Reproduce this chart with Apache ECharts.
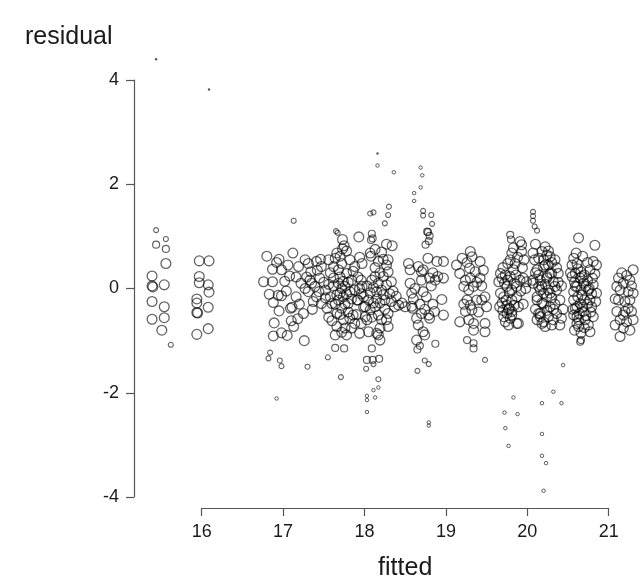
<!DOCTYPE html>
<html>
<head>
<meta charset="utf-8">
<script src="https://cdn.jsdelivr.net/npm/echarts@6/dist/echarts.min.js"></script>
<style>html,body{margin:0;padding:0;background:#fff}#c{width:642px;height:585px}</style>
</head>
<body>
<div id="c"></div>
<script>
// x tick labels / y tick labels
const xTicks = [16, 17, 18, 19, 20, 21];
const yTicks = [-4, -2, 0, 2, 4];

// [fitted, residual] points, grouped by their plotted weight class
const fullWeight = [
[15.56,0.48],[15.39,0.24],[15.39,0.05],[15.40,0.03],[15.54,0.07],[15.39,-0.25],[15.54,-0.35],[15.39,-0.59],[15.54,-0.56],[15.51,-0.80],
[15.97,0.53],[16.09,0.53],[15.97,0.23],[15.97,0.11],[16.08,0.07],[16.09,-0.07],[15.94,-0.20],[15.94,-0.28],[15.94,-0.46],[15.95,-0.47],[16.08,-0.36],[15.94,-0.88],[16.08,-0.77],
[16.80,0.62],[16.95,0.56],[17.12,0.68],[17.27,0.55],[16.87,0.37],[16.98,0.36],[17.06,0.45],[17.19,0.42],[17.08,0.24],[16.76,0.13],[16.87,0.13],[16.83,-0.11],[16.94,-0.13],[16.98,-0.14],[16.88,-0.27],[16.95,-0.43],[17.11,-0.36],[17.09,-0.38],[17.16,-0.16],[17.25,-0.48],[16.89,-0.66],[17.10,-0.62],[17.13,-0.73],[16.88,-0.91],[16.98,-0.85],[17.26,-1.00],
[17.73,0.94],[17.75,0.82],[17.73,0.76],[17.93,0.99],
[17.31,0.48],[17.41,0.52],[17.47,0.42],[17.56,0.55],[17.64,0.58],[17.72,0.48],[17.82,0.55],[17.88,0.42],[17.97,0.48],[17.33,0.16],[17.39,0.04],[17.31,-0.06],[17.41,-0.16],[17.52,-0.03],[17.62,0.20],[17.68,0.10],[17.70,-0.09],[17.76,0.04],[17.84,0.16],[17.88,-0.03],[17.97,0.04],[17.91,-0.22],[17.80,-0.29],[17.72,-0.38],[17.66,-0.48],[17.74,-0.60],[17.82,-0.57],[17.88,-0.67],[17.66,-0.73],[17.76,-0.76],[17.64,-0.89],[17.78,-0.89],[17.86,-0.51],[17.58,-0.16],[17.47,-0.29],[17.37,-0.25],[17.27,0.00],[17.54,-0.38],[17.60,-0.29],[17.99,-0.35],[18.01,-0.54],[17.35,0.10],[17.45,0.20],[17.68,0.36],[17.78,0.29],[17.74,-0.16],[17.82,-0.06],
[17.58,0.30],[17.62,0.05],[17.66,-0.12],[17.70,0.22],[17.72,0.00],[17.74,0.14],[17.78,-0.10],[17.80,0.12],[17.64,-0.30],[17.68,-0.22],[17.76,-0.30],[17.84,-0.20],[17.62,0.42],[17.70,0.62],[17.86,0.33],[17.92,0.22],[17.94,0.60],[17.50,0.12],[17.52,-0.18],[17.56,0.08],[17.44,-0.06],[17.36,-0.40],[17.42,0.35],[17.34,0.32],[17.29,0.22],[17.56,-0.55],[17.70,-0.50],[17.80,-0.45],[17.72,-0.84],[17.84,-0.76],[17.90,-0.50],[17.96,-0.10],[17.66,0.68],[17.78,0.72],[17.60,-0.62],[17.46,0.56],[17.22,0.10],[17.20,-0.30],[17.16,0.22],[17.04,-0.05],[17.02,0.14],[16.92,0.50],[17.18,-0.58],[17.05,-0.90],
[18.27,0.85],[18.34,0.82],[18.07,0.68],[18.08,0.62],[18.17,0.52],[18.23,0.56],[18.27,0.45],[18.29,0.55],
[17.96,0.16],[17.94,0.00],[17.99,-0.16],[17.92,-0.22],[18.13,0.23],[18.17,0.10],[18.21,-0.03],[18.15,-0.06],[18.27,0.07],[18.33,0.13],[18.23,0.23],[18.29,0.32],
[18.05,-0.22],[18.11,-0.28],[18.01,-0.35],[18.07,-0.41],[18.19,-0.28],[18.25,-0.22],[18.33,-0.25],[18.37,-0.35],[18.46,-0.28],[18.50,-0.35],[18.58,-0.34],
[18.17,-0.51],[18.21,-0.60],[18.19,-0.76],[18.17,-0.89],[18.19,-0.99],[18.15,-0.86],[18.29,-0.48],[18.27,-0.60],[18.29,-0.73],[17.96,-0.67],[18.05,-0.83],[17.94,-0.86],
[18.03,0.05],[18.07,-0.08],[18.11,0.02],[18.09,0.16],[18.19,0.30],[18.15,-0.20],[18.23,-0.12],[18.13,-0.35],[18.25,-0.40],[18.09,-0.55],[18.03,-0.60],[18.13,0.75],[18.13,0.40],[18.21,0.70],[18.35,-0.05],[18.39,-0.15],[18.42,-0.32],[18.31,-0.10],
[18.54,0.48],[18.56,0.36],[18.72,0.36],[18.70,0.32],[18.78,0.58],[18.89,0.52],[18.90,0.23],[18.87,0.16],[18.95,-0.21],[18.56,0.10],[18.62,0.00],[18.70,0.16],[18.58,-0.09],[18.72,-0.06],[18.76,-0.16],[18.59,-0.38],[18.64,-0.57],[18.66,-0.70],[18.72,-0.83],[18.74,-0.89],[18.64,-0.99],[18.79,-0.51],[18.86,-0.44],[18.80,-0.57],
[18.60,-0.20],[18.68,-0.30],[18.74,-0.40],[18.70,-0.48],[18.82,0.05],[18.84,0.30],[18.66,0.42],[18.80,0.20],[18.84,-0.30],
[19.13,0.45],[19.17,0.29],[19.24,0.16],[19.30,0.71],[19.32,0.61],[19.42,0.52],[19.29,0.39],[19.36,0.32],[19.42,0.20],[19.22,0.04],[19.28,-0.03],[19.34,0.04],[19.26,-0.22],[19.30,-0.32],[19.38,-0.22],[19.44,-0.22],[19.48,-0.16],[19.50,-0.35],[19.24,-0.44],[19.32,-0.41],[19.17,-0.64],[19.28,-0.60],[19.34,-0.67],[19.48,-0.67],[19.48,-0.83],[19.34,-0.80],[18.97,0.52],[18.97,0.20],[18.97,-0.51],
[19.20,0.58],[19.26,0.50],[19.38,0.12],[19.44,0.05],[19.40,-0.45],[19.22,-0.30],[19.30,0.20],[19.46,0.35],
[19.91,0.90],[19.93,0.84],[19.93,0.71],[19.81,0.68],[19.79,0.55],[19.85,0.48],[19.67,0.29],[19.69,0.20],[19.73,0.26],[19.65,0.13],[19.95,0.20],[19.91,0.16],[19.99,0.13],[19.83,0.36],[19.79,0.23],[19.87,0.04],[19.81,-0.03],[19.75,0.04],[19.67,-0.09],[19.71,-0.16],[19.69,-0.28],[19.75,-0.32],[19.81,-0.22],[19.87,-0.16],[19.89,-0.35],[19.75,-0.48],[19.79,-0.57],[19.77,-0.70],[19.89,-0.67],[19.81,-0.44],[19.73,-0.64],[19.66,-0.35],[19.77,-0.41],[19.71,-0.54],[19.81,-0.51],[19.87,-0.67],
[19.72,0.10],[19.76,0.16],[19.84,0.10],[19.78,-0.08],[19.74,-0.22],[19.84,-0.32],[19.78,-0.38],[19.70,-0.42],[19.94,0.40],[19.96,0.55],[19.88,0.60],[19.83,0.78],[19.92,-0.05],[19.95,-0.30],[19.70,0.40],[19.76,0.48],[19.86,0.26],[19.98,0.00],
[20.07,0.68],[20.09,0.55],[20.12,0.36],[20.07,0.16],[20.14,0.04],[20.16,-0.03],[20.12,-0.22],[20.18,-0.28],[20.14,-0.48],[20.16,-0.54],[20.20,-0.64],[20.22,0.45],[20.24,0.23],[20.20,-0.09],[20.18,0.71],[20.22,0.80],[20.28,0.61],[20.20,0.42],[20.14,0.26],[20.24,0.20],[20.30,0.29],[20.07,0.10],[20.18,0.04],[20.26,-0.03],[20.34,0.04],[20.40,-0.22],[20.12,-0.16],[20.20,-0.29],[20.28,-0.35],[20.16,-0.48],[20.26,-0.54],[20.36,-0.48],[20.42,-0.57],[20.18,-0.67],[20.22,-0.73],[20.32,-0.60],[20.24,0.64],[20.34,0.55],[20.28,0.29],[20.38,0.29],[20.32,0.13],[20.28,-0.09],[20.36,-0.03],
[20.10,0.30],[20.16,0.16],[20.22,0.08],[20.24,-0.16],[20.30,-0.18],[20.32,-0.40],[20.26,0.45],[20.30,0.50],[20.36,0.40],[20.10,-0.40],[20.12,-0.60],[20.24,-0.42],[20.38,0.12],[20.42,0.05],[20.44,-0.40],[20.10,0.85],[20.14,0.58],[20.20,0.55],[20.26,0.72],[20.34,-0.30],[20.40,-0.70],[20.30,-0.70],
[20.63,0.97],[20.83,0.83],[20.57,0.58],[20.55,0.45],[20.61,0.48],[20.81,0.52],[20.85,0.45],[20.77,0.36],[20.59,0.29],[20.65,0.20],[20.69,0.10],[20.61,0.04],[20.57,-0.06],[20.67,-0.13],[20.75,-0.03],[20.81,0.07],[20.85,-0.09],[20.77,-0.22],[20.65,-0.29],[20.59,-0.38],[20.69,-0.44],[20.79,-0.35],[20.61,-0.54],[20.71,-0.60],[20.81,-0.54],[20.63,-0.73],[20.75,-0.70],[20.77,-0.83],[20.55,0.23],[20.59,0.04],[20.57,-0.22],[20.61,-0.35],[20.57,-0.51],[20.61,-0.67],[20.67,0.23],
[20.62,0.38],[20.66,0.32],[20.70,0.26],[20.74,0.15],[20.72,0.04],[20.66,-0.03],[20.62,-0.16],[20.70,-0.22],[20.74,-0.30],[20.68,-0.36],[20.64,-0.48],[20.72,-0.52],[20.78,-0.45],[20.58,0.12],[20.63,-0.60],[20.68,0.62],[20.74,0.50],[20.80,0.20],[20.83,0.28],[20.84,-0.25],[20.56,-0.40],[20.60,0.68],[20.66,-0.85],[20.70,-0.75],[20.58,-0.80],[20.79,-0.10],[20.76,0.00],[20.53,0.30],
[21.12,0.20],[21.18,0.10],[21.26,0.16],[21.30,0.36],[21.10,0.04],[21.14,-0.03],[21.24,-0.06],[21.30,-0.09],[21.12,-0.22],[21.20,-0.25],[21.26,-0.22],[21.10,-0.44],[21.18,-0.51],[21.28,-0.44],[21.14,-0.60],[21.22,-0.64],[21.18,-0.76],[21.26,-0.80],[21.14,-0.92],
[21.22,0.25],[21.16,0.30],[21.08,-0.20],[21.28,0.05],[21.24,-0.38],[21.20,-0.44],[21.08,-0.70],[21.30,-0.60]
];
const reducedWeight = [
[15.44,0.84],[15.56,0.76],
[17.64,-1.14],[17.75,-1.15],
[18.09,1.05],[18.10,0.96],[18.08,0.93],[18.09,-1.15],[18.03,-1.37],[18.10,-1.37],[18.18,-1.35],
[18.75,0.84],[18.79,0.91],[18.78,1.08],[18.80,1.01],[18.77,1.09],[18.87,-1.06],[18.65,-1.17],[18.68,-1.10],
[19.26,-0.99],[19.34,-1.05],[19.34,-1.15],
[19.79,1.03],[19.80,0.94],
[20.65,-1.02],[20.66,-0.99]
];
const lowWeight = [
[15.44,1.12],[15.56,0.95],[15.62,-1.08],
[17.65,1.10],[17.67,1.07],[17.13,1.30],[16.84,-1.23],[16.82,-1.34],[16.96,-1.38],[16.98,-1.49],[17.30,-1.50],[17.55,-1.32],[17.71,-1.70],
[18.02,-1.54],[18.11,-1.45],[18.17,-1.74],[18.07,1.44],[18.11,1.46],[18.25,1.25],[18.29,1.41],[18.30,1.57],
[18.72,1.49],[18.72,1.40],[18.82,1.41],[18.83,1.24],[18.65,-1.58],[18.74,-1.38],[18.79,-1.45],
[19.48,-1.37],
[20.07,1.47],[20.07,1.39],[20.07,1.30],[20.09,1.19],[20.12,1.11]
];
const minimalWeight = [
[16.92,-2.11],[18.11,-1.95],[18.17,-1.90],[18.03,-2.06],[18.13,-2.09],[18.03,-2.14],[18.03,-2.37],
[18.16,2.36],[18.36,2.23],[18.61,1.83],[18.61,1.68],[18.69,2.32],[18.71,2.17],[18.69,1.94],[18.79,-2.57],[18.79,-2.63],
[19.83,-2.09],[19.72,-2.38],[19.88,-2.41],[19.73,-2.68],[19.77,-3.02],[20.18,-2.20],[20.18,-2.79],[20.18,-3.21],[20.23,-3.35],[20.20,-3.88],[20.32,-1.98],[20.42,-2.20],[20.44,-1.47]
];
const zeroWeight = [
[15.44,4.40],[16.09,3.82],[18.16,2.59]
];

const stroke = 'rgba(0,0,0,0.76)';
function ring(name, data, size, bw) {
  return {
    name, type: 'scatter', data, symbol: 'circle', symbolSize: size, clip: false,
    itemStyle: { color: 'rgba(0,0,0,0)', borderColor: stroke, borderWidth: bw },
    emphasis: { disabled: true }, silent: true
  };
}
const font = 'Liberation Sans, Arial, Helvetica, sans-serif';
const axisCol = '#555';
const chart = echarts.init(document.getElementById('c'), null, { renderer: 'canvas' });
chart.setOption({
  animation: false,
  backgroundColor: '#fff',
  title: {
    text: 'residual', left: 20, top: 20,
    textStyle: { fontFamily: font, fontSize: 25, fontWeight: 'normal', color: '#1a1a1a' }
  },
  grid: { left: 201.7, right: 33.3, top: 80, bottom: 88, outerBoundsMode: 'none' },
  xAxis: {
    type: 'value', min: xTicks[0], max: xTicks[xTicks.length - 1], interval: 1,
    offset: 11,
    name: 'fitted', nameLocation: 'middle', nameGap: 48,
    nameTextStyle: { fontFamily: font, fontSize: 25, color: '#1a1a1a' },
    axisLine: { show: true, onZero: false, lineStyle: { color: axisCol, width: 1.2 } },
    axisTick: { show: true, length: 8, lineStyle: { color: axisCol, width: 1.2 } },
    axisLabel: { fontFamily: font, fontSize: 18, color: '#1a1a1a', margin: 15 },
    splitLine: { show: false }
  },
  yAxis: {
    type: 'value', min: yTicks[0], max: yTicks[yTicks.length - 1], interval: 2,
    offset: 67.7,
    axisLine: { show: true, onZero: false, lineStyle: { color: axisCol, width: 1.2 } },
    axisTick: { show: true, length: 8, lineStyle: { color: axisCol, width: 1.2 } },
    axisLabel: { fontFamily: font, fontSize: 18, color: '#1a1a1a', margin: 15 },
    splitLine: { show: false }
  },
  series: [
    ring('full', fullWeight, 9.8, 1.3),
    ring('reduced', reducedWeight, 7, 1.2),
    ring('low', lowWeight, 5, 1.1),
    ring('minimal', minimalWeight, 3.5, 1.0),
    {
      name: 'zero', type: 'scatter', data: zeroWeight, symbol: 'circle', symbolSize: 2.5, clip: false,
      itemStyle: { color: 'rgba(0,0,0,0.8)' }, silent: true
    }
  ]
});
</script>
</body>
</html>
